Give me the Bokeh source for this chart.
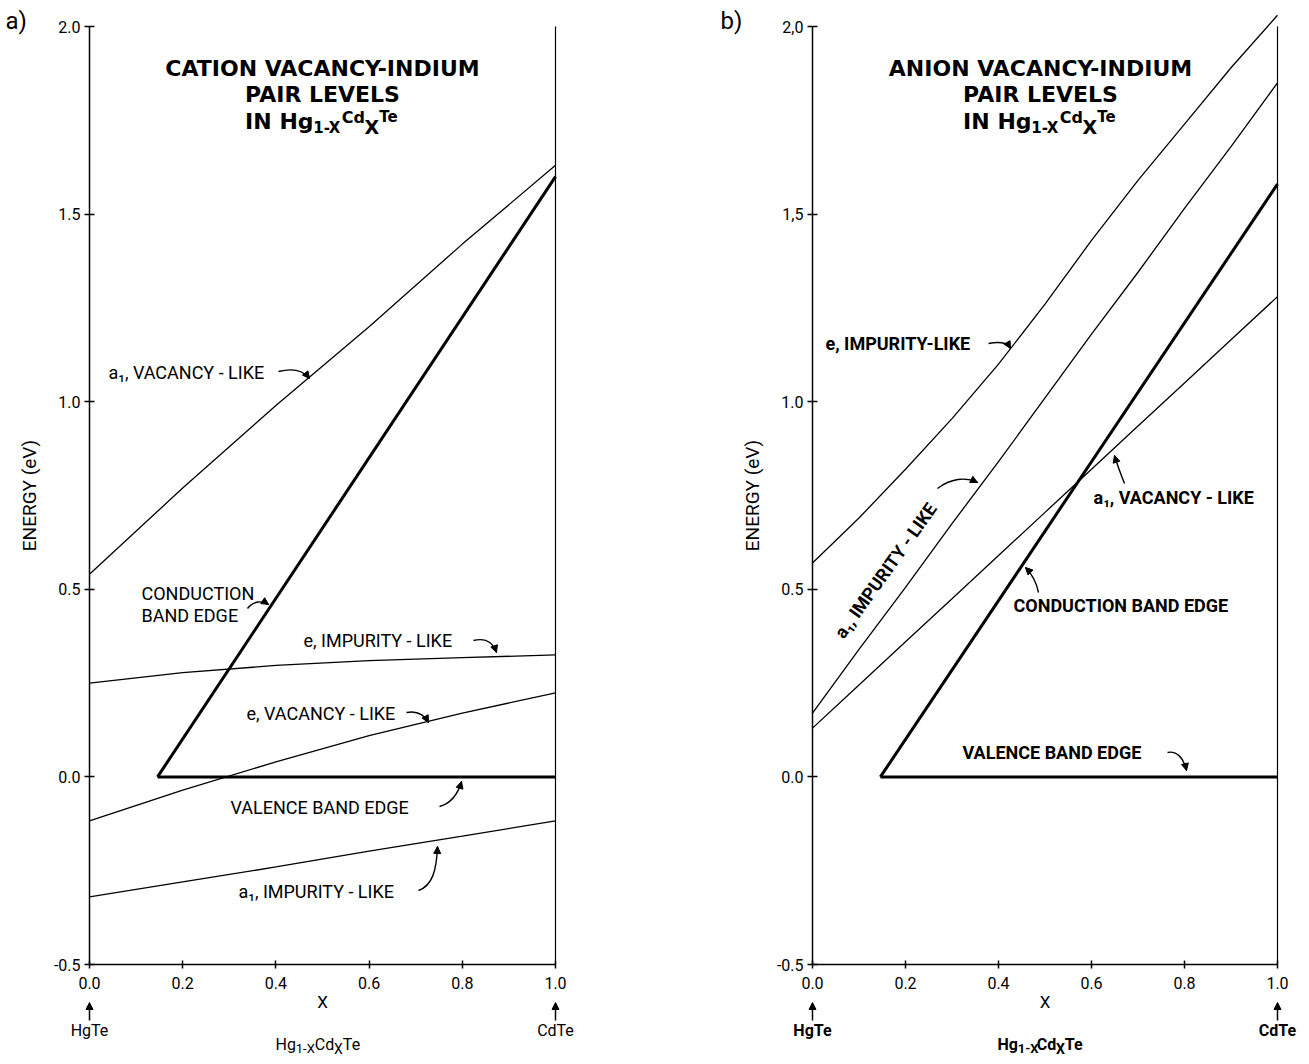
import math
from bokeh.plotting import figure
from bokeh.layouts import row
from bokeh.models import Range1d, Label, Arrow, NormalHead, FixedTicker, LinearAxis
from bokeh.embed import file_html
from bokeh.resources import INLINE

# ---------------- data ----------------
# panel a) cation vacancy - indium pair levels
x_a = [0.0, 0.2, 0.4, 0.6, 0.8, 1.0]
a_a1_vacancy = [0.54, 0.77, 0.99, 1.20, 1.42, 1.63]
a_e_impurity = [0.25, 0.278, 0.297, 0.31, 0.318, 0.325]
a_e_vacancy = [-0.117, -0.035, 0.04, 0.11, 0.17, 0.224]
a_a1_impurity = [-0.32, -0.28, -0.24, -0.198, -0.158, -0.117]
a_band_x = [0.146, 1.0]
a_conduction = [0.0, 1.60]
a_valence = [0.0, 0.0]

# panel b) anion vacancy - indium pair levels
x_b = [0.0, 0.1, 0.2, 0.3, 0.4, 0.5, 0.6, 0.7, 0.8, 0.9, 1.0]
b_e_impurity = [0.57, 0.69, 0.82, 0.955, 1.10, 1.26, 1.43, 1.59, 1.74, 1.89, 2.03]
b_a1_impurity = [0.17, 0.34, 0.505, 0.675, 0.84, 1.01, 1.18, 1.345, 1.515, 1.68, 1.85]
b_a1_vacancy = [0.13, 0.245, 0.36, 0.475, 0.59, 0.705, 0.82, 0.935, 1.05, 1.165, 1.28]
b_band_x = [0.146, 1.0]
b_conduction = [0.0, 1.58]
b_valence = [0.0, 0.0]

y_ticks = [-0.5, 0.0, 0.5, 1.0, 1.5, 2.0]
y_labels_a = ["-0.5", "0.0", "0.5", "1.0", "1.5", "2.0"]
y_labels_b = ["-0.5", "0.0", "0.5", "1.0", "1,5", "2,0"]
x_ticks = [0.0, 0.2, 0.4, 0.6, 0.8, 1.0]
x_labels = ["0.0", "0.2", "0.4", "0.6", "0.8", "1.0"]
Y_MIN, Y_MAX = -0.5, 2.0
X_MIN, X_MAX = 0.0, 1.0

# ---------------- layout constants (canvas px) ----------------
FIG_H = 1060
FRAME_TOP = 26.0           # pixel of y = 2.0
PX_PER_Y = 938 / 2.5       # pixels per eV
A_LEFT, A_W, A_CANVAS = 89.0, 466, 655     # x=0 pixel, pixels per unit x, canvas width
B_LEFT, B_W, B_CANVAS = 812.0, 465, 650
B_OFF = A_CANVAS                            # page x where panel b canvas starts


def conv_a(px, py):
    return (px - A_LEFT) / A_W, Y_MAX - (py - FRAME_TOP) / PX_PER_Y


def conv_b(px, py):
    return (px - B_LEFT) / B_W, Y_MAX - (py - FRAME_TOP) / PX_PER_Y


ROBOTO = {'I': .27, 'M': .87, 'W': .88, 'L': .54, 'E': .57, 'T': .61, 'H': .71,
          'X': .63, 'C': .65, 'l': .24, 'i': .24, '-': .28, ' ': .25, ',': .2, '.': .26}
DEJAVU = {'I': .37, 'M': 1.0, 'H': .84, 'N': .84, 'T': .68, 'X': .77, 'C': .73,
          'E': .68, 'L': .64, '-': .42, ' ': .35}


def est_w(s, size, font):
    tot = 0.0
    for ch in s:
        if font == "DejaVu Sans":
            tot += DEJAVU.get(ch, .78 if ch.isupper() else .70)
        else:
            tot += ROBOTO.get(ch, .65 if ch.isupper() else (.56 if ch.isdigit() else .55))
    return tot * size


def lab(p, conv, px, py, text, size=18, bold=False, align="left",
        baseline="middle", angle=0.0, font="Roboto"):
    x, y = conv(px, py)
    p.add_layout(Label(x=x, y=y, text=text, text_font=font,
                       text_font_size=f"{size}px",
                       text_font_style="bold" if bold else "normal",
                       text_align=align, text_baseline=baseline,
                       angle=angle, text_color="black"))


def formula(p, conv, cx, cy, pieces, font="Roboto", bold=False):
    total = sum(est_w(t, s, font) for t, s, dy in pieces)
    x = cx - total / 2
    for t, s, dy in pieces:
        lab(p, conv, x, cy + dy, t, size=s, bold=bold, font=font)
        x += est_w(t, s, font)


def curved_arrow(p, conv, s, c0, c1, e, lw=1.4):
    x0, y0 = conv(*s)
    cx0, cy0 = conv(*c0)
    cx1, cy1 = conv(*c1)
    x1, y1 = conv(*e)
    p.bezier(x0=x0, y0=y0, x1=x1, y1=y1, cx0=cx0, cy0=cy0, cx1=cx1, cy1=cy1,
             line_color="black", line_width=lw)
    dx, dy = e[0] - c1[0], e[1] - c1[1]
    d = math.hypot(dx, dy) or 1.0
    bx, by = conv(e[0] - 2.5 * dx / d, e[1] - 2.5 * dy / d)
    p.add_layout(Arrow(x_start=bx, y_start=by, x_end=x1, y_end=y1,
                       line_width=lw, line_color="black",
                       end=NormalHead(size=7, fill_color="black", line_color="black")))


def straight_arrow(p, conv, s, e):
    x0, y0 = conv(*s)
    x1, y1 = conv(*e)
    p.add_layout(Arrow(x_start=x0, y_start=y0, x_end=x1, y_end=y1,
                       line_width=1.5, line_color="black",
                       end=NormalHead(size=7, fill_color="black", line_color="black")))


def style_axis(ax):
    ax.axis_line_width = 1.5
    ax.axis_line_color = "black"
    ax.major_tick_line_color = "black"
    ax.major_tick_line_width = 1.5
    ax.minor_tick_line_color = None
    ax.major_label_text_font = "Roboto"
    ax.major_label_text_font_size = "16px"
    ax.major_label_text_color = "black"
    ax.axis_label_text_font = "Roboto"
    ax.axis_label_text_font_style = "normal"
    ax.axis_label_text_color = "black"


def make_fig(conv, canvas_w, left_px, ylabels):
    xs, yt = conv(left_px, 0)
    xe, yb = conv(left_px + canvas_w, FIG_H)
    p = figure(width=canvas_w, height=FIG_H,
               x_range=Range1d(xs, xe), y_range=Range1d(yb, yt),
               x_axis_location=None, y_axis_location=None,
               min_border=0, min_border_left=0, min_border_right=0,
               min_border_top=0, min_border_bottom=0,
               output_backend="svg", toolbar_location=None,
               background_fill_color="white", border_fill_color="white")
    p.outline_line_color = None
    p.grid.visible = False

    yax = LinearAxis(fixed_location=X_MIN, bounds=(Y_MIN, Y_MAX),
                     ticker=FixedTicker(ticks=y_ticks))
    style_axis(yax)
    yax.major_tick_in = 5
    yax.major_tick_out = 5
    yax.major_label_overrides = {t: l for t, l in zip(y_ticks, ylabels)}
    yax.major_label_standoff = 4
    yax.axis_label = "ENERGY (eV)"
    yax.axis_label_text_font_size = "19px"
    yax.axis_label_standoff = 10
    p.add_layout(yax, "left")

    xax = LinearAxis(fixed_location=Y_MIN, bounds=(X_MIN, X_MAX),
                     ticker=FixedTicker(ticks=x_ticks))
    style_axis(xax)
    xax.major_tick_in = 4
    xax.major_tick_out = 4
    xax.major_label_overrides = {t: l for t, l in zip(x_ticks, x_labels)}
    xax.major_label_standoff = 8
    xax.axis_label = "X"
    xax.axis_label_text_font_size = "17px"
    xax.axis_label_standoff = 0
    p.add_layout(xax, "below")

    rax = LinearAxis(fixed_location=X_MAX, bounds=(Y_MIN, Y_MAX),
                     ticker=FixedTicker(ticks=[]))
    rax.axis_line_width = 1.2
    rax.axis_line_color = "black"
    rax.major_tick_line_color = None
    rax.minor_tick_line_color = None
    p.add_layout(rax, "right")
    return p


thin = dict(line_color="black", line_width=1.3)

# ---------------- panel a ----------------
pa = make_fig(conv_a, A_CANVAS, 0, y_labels_a)
pa.line(x_a, a_a1_vacancy, **thin)
pa.line(x_a, a_e_impurity, **thin)
pa.line(x_a, a_e_vacancy, **thin)
pa.line(x_a, a_a1_impurity, **thin)
pa.line(a_band_x, a_conduction, line_color="black", line_width=3)
pa.line(a_band_x, a_valence, line_color="black", line_width=3)

lab(pa, conv_a, 5, 20, "a)", size=24)
for txt, yy in (("CATION VACANCY-INDIUM", 68), ("PAIR LEVELS", 94)):
    lab(pa, conv_a, 322, yy, txt, size=22, bold=True, align="center", font="DejaVu Sans")
formula(pa, conv_a, 322, 121, [("IN Hg", 22, 0), ("1-X", 15, 6), ("Cd", 16, -4),
                                ("X", 19, 5), ("Te", 15, -5)],
        font="DejaVu Sans", bold=True)

lab(pa, conv_a, 108, 372, "a\u2081, VACANCY - LIKE")
curved_arrow(pa, conv_a, (278, 371), (290, 368), (302, 369), (309, 378))
lab(pa, conv_a, 141, 593, "CONDUCTION")
lab(pa, conv_a, 141, 615, "BAND EDGE")
curved_arrow(pa, conv_a, (247, 608), (253, 600), (262, 600), (268, 604))
lab(pa, conv_a, 303, 640, "e, IMPURITY - LIKE")
curved_arrow(pa, conv_a, (473, 640), (485, 637), (492, 641), (496, 652))
lab(pa, conv_a, 246, 713, "e, VACANCY - LIKE")
curved_arrow(pa, conv_a, (406, 712), (416, 710), (423, 713), (428, 722))
lab(pa, conv_a, 230, 807, "VALENCE BAND EDGE")
curved_arrow(pa, conv_a, (439, 806), (450, 803), (457, 795), (461, 781))
lab(pa, conv_a, 238, 891, "a\u2081, IMPURITY - LIKE")
curved_arrow(pa, conv_a, (418, 890), (432, 885), (436, 870), (437, 846))

straight_arrow(pa, conv_a, (89, 1020), (89, 1002))
straight_arrow(pa, conv_a, (555, 1020), (555, 1002))
lab(pa, conv_a, 89, 1030, "HgTe", size=16, align="center")
lab(pa, conv_a, 555, 1030, "CdTe", size=16, align="center")
formula(pa, conv_a, 318, 1044, [("Hg", 16, 0), ("1-X", 13, 4), ("Cd", 16, 0),
                                 ("X", 14, 4), ("Te", 16, 0)])

# ---------------- panel b ----------------
pb = make_fig(conv_b, B_CANVAS, B_OFF, y_labels_b)
pb.line(x_b, b_e_impurity, **thin)
pb.line(x_b, b_a1_impurity, **thin)
pb.line(x_b, b_a1_vacancy, **thin)
pb.line(b_band_x, b_conduction, line_color="black", line_width=3)
pb.line(b_band_x, b_valence, line_color="black", line_width=3)

lab(pb, conv_b, 720, 20, "b)", size=24)
for txt, yy in (("ANION VACANCY-INDIUM", 68), ("PAIR LEVELS", 94)):
    lab(pb, conv_b, 1040, yy, txt, size=22, bold=True, align="center", font="DejaVu Sans")
formula(pb, conv_b, 1040, 121, [("IN Hg", 22, 0), ("1-X", 15, 6), ("Cd", 16, -4),
                                 ("X", 19, 5), ("Te", 15, -5)],
        font="DejaVu Sans", bold=True)

lab(pb, conv_b, 825, 343, "e, IMPURITY-LIKE", bold=True)
curved_arrow(pb, conv_b, (988, 343), (998, 341), (1006, 341), (1010, 348))
lab(pb, conv_b, 885, 570, "a\u2081, IMPURITY - LIKE", bold=True, align="center",
    angle=math.radians(54.4))
curved_arrow(pb, conv_b, (937, 488), (950, 478), (965, 476), (977, 482))
lab(pb, conv_b, 1093, 497, "a\u2081, VACANCY - LIKE", bold=True)
curved_arrow(pb, conv_b, (1124, 483), (1120, 473), (1117, 465), (1114, 455))
lab(pb, conv_b, 1013, 605, "CONDUCTION BAND EDGE", bold=True)
curved_arrow(pb, conv_b, (1038, 592), (1036, 582), (1031, 573), (1025, 567))
lab(pb, conv_b, 962, 752, "VALENCE BAND EDGE", bold=True)
curved_arrow(pb, conv_b, (1167, 752), (1176, 750), (1183, 757), (1186, 770))

straight_arrow(pb, conv_b, (812, 1020), (812, 1002))
straight_arrow(pb, conv_b, (1277, 1020), (1277, 1002))
lab(pb, conv_b, 812, 1030, "HgTe", size=16, bold=True, align="center")
lab(pb, conv_b, 1277, 1030, "CdTe", size=16, bold=True, align="center")
formula(pb, conv_b, 1040, 1044, [("Hg", 16, 0), ("1-X", 13, 4), ("Cd", 16, 0),
                                  ("X", 14, 4), ("Te", 16, 0)], bold=True)

layout = row(pa, pb)
open("out.html", "w").write(file_html(layout, INLINE))
